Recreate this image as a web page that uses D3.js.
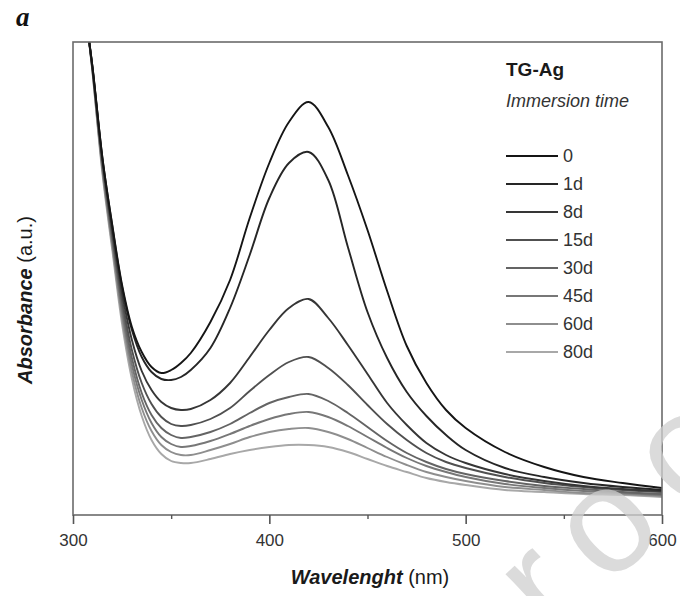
<!DOCTYPE html>
<html>
<head>
<meta charset="utf-8">
<script src="https://cdn.jsdelivr.net/npm/d3@7"></script>
<style>
  body { margin: 0; background: #fff; }
  svg { display: block; font-family: "Liberation Sans", Arial, sans-serif; }
</style>
</head>
<body>
<div id="chart"></div>
<script>
// Wavelength grid (nm) and absorbance (a.u.)
const wavelength = [308, 310, 315, 320, 325, 330, 335, 340, 345, 350, 355, 360, 370, 380, 390, 400,
                    410, 420, 430, 440, 450, 460, 470, 480, 490, 500, 520, 540, 560, 580, 600];

const abs0d  = [4.77, 4.47, 3.57, 2.90, 2.30, 1.88, 1.63, 1.48, 1.42, 1.45, 1.52, 1.62, 1.93, 2.35, 2.97, 3.52,
                3.93, 4.13, 3.88, 3.40, 2.85, 2.24, 1.69, 1.32, 1.05, 0.87, 0.63, 0.48, 0.38, 0.32, 0.27];
const abs1d  = [4.77, 4.47, 3.57, 2.89, 2.28, 1.85, 1.58, 1.43, 1.36, 1.35, 1.38, 1.45, 1.67, 2.07, 2.60, 3.17,
                3.52, 3.63, 3.35, 2.68, 2.03, 1.57, 1.23, 0.99, 0.80, 0.65, 0.47, 0.38, 0.32, 0.28, 0.25];
const abs8d  = [4.77, 4.46, 3.55, 2.85, 2.22, 1.75, 1.44, 1.25, 1.13, 1.07, 1.05, 1.06, 1.15, 1.32, 1.58, 1.85,
                2.07, 2.16, 1.97, 1.70, 1.41, 1.12, 0.90, 0.72, 0.60, 0.52, 0.41, 0.34, 0.29, 0.26, 0.24];
const abs15d = [4.77, 4.45, 3.53, 2.81, 2.15, 1.65, 1.32, 1.11, 0.98, 0.91, 0.89, 0.90, 0.96, 1.07, 1.24, 1.40,
                1.53, 1.58, 1.47, 1.30, 1.10, 0.91, 0.75, 0.62, 0.53, 0.47, 0.38, 0.32, 0.28, 0.25, 0.23];
const abs30d = [4.77, 4.44, 3.50, 2.77, 2.09, 1.57, 1.22, 1.00, 0.87, 0.80, 0.77, 0.78, 0.83, 0.91, 1.02, 1.12,
                1.18, 1.21, 1.14, 1.02, 0.88, 0.74, 0.62, 0.53, 0.46, 0.41, 0.34, 0.29, 0.26, 0.23, 0.21];
const abs45d = [4.77, 4.43, 3.47, 2.73, 2.03, 1.50, 1.15, 0.92, 0.78, 0.71, 0.68, 0.69, 0.74, 0.81, 0.89, 0.96,
                1.01, 1.03, 0.98, 0.89, 0.78, 0.67, 0.57, 0.49, 0.43, 0.38, 0.31, 0.27, 0.24, 0.22, 0.20];
const abs60d = [4.77, 4.42, 3.44, 2.69, 1.97, 1.43, 1.07, 0.84, 0.70, 0.63, 0.60, 0.60, 0.65, 0.71, 0.78, 0.83,
                0.86, 0.87, 0.83, 0.76, 0.67, 0.58, 0.50, 0.43, 0.38, 0.34, 0.28, 0.25, 0.22, 0.21, 0.19];
const abs80d = [4.77, 4.41, 3.41, 2.65, 1.91, 1.36, 0.99, 0.75, 0.61, 0.54, 0.52, 0.52, 0.56, 0.61, 0.65, 0.68,
                0.70, 0.70, 0.68, 0.63, 0.56, 0.49, 0.43, 0.37, 0.33, 0.30, 0.25, 0.23, 0.21, 0.20, 0.18];

const timeLabels = ["0", "1d", "8d", "15d", "30d", "45d", "60d", "80d"];
const xTicks = [300, 400, 500, 600];
const xMinorTicks = [350, 450, 550];

const seriesValues = [abs0d, abs1d, abs8d, abs15d, abs30d, abs45d, abs60d, abs80d];
const lineColors = ["#151515", "#262626", "#363636", "#505050", "#646464", "#777777", "#8e8e8e", "#a8a8a8"];

// Set dimensions and margins
const margin = { top: 42, right: 18, bottom: 81, left: 73 },
      width = 680 - margin.left - margin.right,
      height = 596 - margin.top - margin.bottom;

const root = d3.select("#chart")
  .append("svg")
    .attr("width", 680)
    .attr("height", 596);

const svg = root.append("g")
    .attr("transform", `translate(${margin.left},${margin.top})`);

const x = d3.scaleLinear().domain([300, 600]).range([0, width]);
const y = d3.scaleLinear().domain([0, 4.73]).range([height, 0]);

svg.append("clipPath").attr("id", "plot-clip")
  .append("rect").attr("width", width).attr("height", height);

// Spectra, lightest first so the darker ones sit on top
const line = d3.line()
  .x((d, i) => x(wavelength[i]))
  .y(d => y(d))
  .curve(d3.curveCatmullRom.alpha(0.5));

const order = d3.range(seriesValues.length).reverse();
svg.append("g")
    .attr("clip-path", "url(#plot-clip)")
  .selectAll("path")
  .data(order)
  .join("path")
    .attr("d", i => line(seriesValues[i]))
    .attr("fill", "none")
    .attr("stroke", i => lineColors[i])
    .attr("stroke-width", 1.9)
    .attr("stroke-linejoin", "round");

// Frame
svg.append("rect")
    .attr("width", width)
    .attr("height", height)
    .attr("fill", "none")
    .attr("stroke", "#6b6b6b")
    .attr("stroke-width", 1.6);

// X axis, major and minor ticks
const xAxis = svg.append("g")
    .attr("transform", `translate(0,${height})`)
    .call(d3.axisBottom(x).tickValues(xTicks).tickSize(9).tickPadding(10));
xAxis.select(".domain").remove();
xAxis.selectAll("line").attr("stroke", "#555").attr("stroke-width", 1.6);
xAxis.selectAll("text")
    .attr("fill", "#333")
    .style("font-size", "17px")
    .style("font-family", "'Liberation Sans', Arial, sans-serif");

const xMinor = svg.append("g")
    .attr("transform", `translate(0,${height})`)
    .call(d3.axisBottom(x).tickValues(xMinorTicks).tickSize(4).tickFormat(""));
xMinor.select(".domain").remove();
xMinor.selectAll("line").attr("stroke", "#555").attr("stroke-width", 1.4);

// Axis titles
const xTitle = root.append("text")
    .attr("x", 370)
    .attr("y", 584)
    .attr("text-anchor", "middle")
    .attr("fill", "#1a1a1a")
    .style("font-size", "20px");
xTitle.append("tspan").attr("font-weight", "bold").attr("font-style", "italic").text("Wavelenght");
xTitle.append("tspan").text(" (nm)");

const yTitle = root.append("text")
    .attr("transform", "translate(32,300) rotate(-90)")
    .attr("text-anchor", "middle")
    .attr("fill", "#1a1a1a")
    .style("font-size", "20px");
yTitle.append("tspan").attr("font-weight", "bold").attr("font-style", "italic").text("Absorbance");
yTitle.append("tspan").text(" (a.u.)");

// Panel letter
root.append("text")
    .attr("x", 16)
    .attr("y", 26)
    .attr("fill", "#111")
    .attr("font-weight", "bold")
    .attr("font-style", "italic")
    .style("font-family", "'Liberation Serif', 'Times New Roman', serif")
    .style("font-size", "27px")
    .text("a");

// Legend
const legend = root.append("g").attr("transform", "translate(506,0)");
legend.append("text")
    .attr("y", 76)
    .attr("fill", "#1a1a1a")
    .attr("font-weight", "bold")
    .style("font-size", "19px")
    .text("TG-Ag");
legend.append("text")
    .attr("y", 107)
    .attr("fill", "#333")
    .attr("font-style", "italic")
    .style("font-size", "18px")
    .text("Immersion time");

const items = legend.selectAll(".item")
  .data(timeLabels)
  .join("g")
    .attr("class", "item")
    .attr("transform", (d, i) => `translate(0,${156 + i * 28})`);
items.append("line")
    .attr("x1", 0).attr("x2", 52)
    .attr("stroke", (d, i) => lineColors[i])
    .attr("stroke-width", 1.9);
items.append("text")
    .attr("x", 57)
    .attr("dy", "0.36em")
    .attr("fill", "#333")
    .style("font-size", "18px")
    .text(d => d);

// Watermark
root.append("text")
    .attr("transform", "translate(473,713) rotate(-43)")
    .attr("fill", "#cfcfcf")
    .attr("opacity", 0.75)
    .attr("letter-spacing", "25px")
    .style("font-size", "150px")
    .text("proof");
</script>
</body>
</html>
